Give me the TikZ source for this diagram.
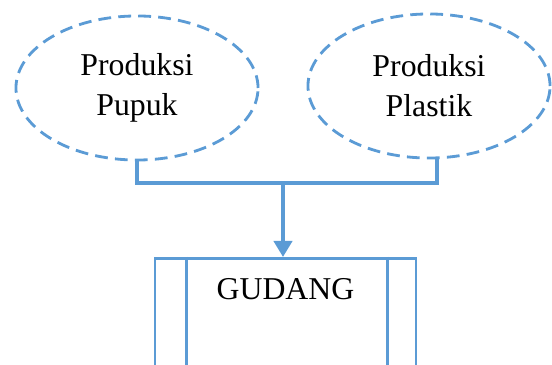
\documentclass[tikz,border=0pt]{standalone}
\usepackage{fontspec}
\setmainfont{Liberation Serif}
\usetikzlibrary{shapes.geometric,arrows.meta}
\definecolor{officeblue}{RGB}{91,155,213}
\begin{document}
\begin{tikzpicture}[x = 0.025cm, y = -0.025cm,
        proses/.style = {ellipse, draw = officeblue, dashed, dash pattern = on 0.32cm off 0.18cm,
            line width = 2pt, minimum width = 6.05cm, minimum height = 3.6cm, align = center,
            font = \fontsize{22.6}{28.5}\selectfont},
        gudangbox/.style = {rectangle, draw = officeblue, line width = 1.8pt, anchor = north,
            minimum width = 6.525cm, minimum height = 4.5cm, inner sep = 0pt},
        garis/.style = {draw = officeblue, line width = 2.8pt}]
    \useasboundingbox (0, 0) rectangle (552, 365);
    % kedua proses produksi
    \node [proses] (pupuk) at (137, 88) {Produksi\\Pupuk};
    \node [proses] (plastik) at (429, 86) {Produksi\\Plastik};
    % gudang penyimpanan
    \node [gudangbox, label = {[font = \fontsize{22.6}{28.5}\selectfont, yshift = -1.2cm]north:GUDANG}] (gudang) at (285.5, 257) {};
    \draw [officeblue, line width = 1.8pt] ([xshift = 0.825cm]gudang.north west) -- ([xshift = 0.825cm]gudang.south west);
    \draw [officeblue, line width = 1.8pt] ([xshift = -0.75cm]gudang.north east) -- ([xshift = -0.75cm]gudang.south east);
    % penghubung
    \coordinate (gabung) at (283, 183);
    \draw [garis] (pupuk.south) |- (gabung) -| (plastik.-84);
    \draw [garis, line width = 3.5pt, -{Triangle[width = 0.45cm, length = 0.4cm]}] (gabung) -- (gabung |- gudang.north);
\end{tikzpicture}
\end{document}
